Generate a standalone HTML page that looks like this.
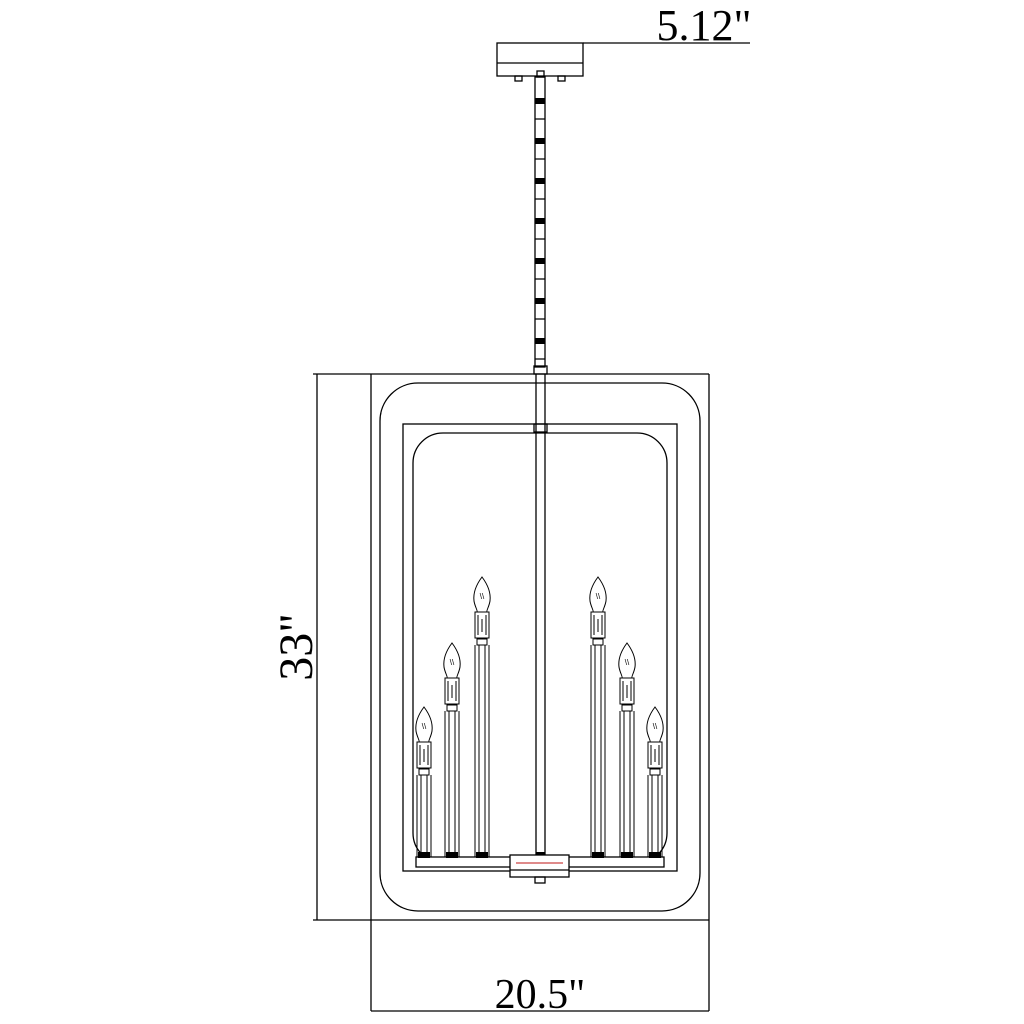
<!DOCTYPE html>
<html><head><style>html,body{margin:0;padding:0;background:#fff}svg{display:block}</style></head>
<body>
<svg width="1024" height="1024" viewBox="0 0 1024 1024" xmlns="http://www.w3.org/2000/svg">
<defs>
<g id="head" fill="none" stroke="#000" stroke-width="1">
  <path d="M0,0 C-6,8 -9,16 -8,24 C-7,30 -4,34 -5,35 L5,35 C4,34 7,30 8,24 C9,16 6,8 0,0 Z"/>
  <text x="0" y="22" font-size="8" text-anchor="middle" fill="#000" stroke="none" font-family="Liberation Sans, sans-serif">\\</text>
  <rect x="-7" y="35" width="14" height="26"/>
  <line x1="-4" y1="38" x2="-4" y2="58"/><line x1="4" y1="38" x2="4" y2="58"/>
  <line x1="0" y1="42" x2="0" y2="55"/>
  <rect x="-5" y="62" width="10" height="6"/>
</g>
</defs>
<g fill="none" stroke="#000" stroke-width="1.3">
  <line x1="583" y1="43" x2="750" y2="43"/>
  <rect x="497" y="43" width="86" height="33"/>
  <line x1="497" y1="63" x2="583" y2="63"/>
  <rect x="515" y="76" width="7" height="5"/><rect x="558" y="76" width="7" height="5"/>
  <rect x="537" y="71" width="7" height="6"/>
  <!-- chain -->
  <rect x="535" y="77" width="10" height="290"/>
  <path d="M535,99 H545 M535,119 H545 M535,139 H545 M535,159 H545 M535,179 H545 M535,199 H545 M535,219 H545 M535,239 H545 M535,259 H545 M535,279 H545 M535,299 H545 M535,319 H545 M535,339 H545 M535,359 H545"/>
  <rect x="534" y="366" width="13" height="8"/>
  <line x1="536" y1="374" x2="536" y2="855"/><line x1="545" y1="374" x2="545" y2="855"/>
  <rect x="534" y="424" width="13" height="8"/>
  <line x1="313" y1="374" x2="709" y2="374"/>
  <line x1="313" y1="920" x2="709" y2="920"/>
  <line x1="317" y1="374" x2="317" y2="920"/>
  <line x1="371" y1="374" x2="371" y2="1011"/>
  <line x1="709" y1="374" x2="709" y2="1011"/>
  <line x1="371" y1="1011" x2="709" y2="1011"/>
  <rect x="380" y="383" width="320" height="528" rx="38"/>
  <rect x="403" y="424" width="274" height="447"/>
  <rect x="413" y="433" width="254" height="430" rx="30"/>
  <rect x="416" y="857" width="248" height="10" fill="#fff"/>
  <rect x="510" y="855" width="59" height="22" fill="#fff"/>
  <line x1="510" y1="870" x2="569" y2="870"/>
  <line x1="516" y1="863" x2="563" y2="863" stroke="#c44"/>
  <rect x="535" y="877" width="10" height="6"/>
</g>
<g fill="#000">
  <rect x="535" y="98" width="10" height="6"/><rect x="535" y="138" width="10" height="6"/><rect x="535" y="178" width="10" height="6"/>
  <rect x="535" y="218" width="10" height="6"/><rect x="535" y="258" width="10" height="6"/><rect x="535" y="298" width="10" height="6"/>
  <rect x="535" y="338" width="10" height="6"/>
  <rect x="536" y="852" width="9" height="3"/>
</g>
<use href="#head" transform="translate(482,577)"/>
<use href="#head" transform="translate(452,643)"/>
<use href="#head" transform="translate(424,707)"/>
<use href="#head" transform="translate(598,577)"/>
<use href="#head" transform="translate(627,643)"/>
<use href="#head" transform="translate(655,707)"/>
<g fill="none" stroke="#000" stroke-width="1">
  <path d="M475,645V857M489,645V857M479,645V857M485,645V857"/>
  <path d="M445,711V857M459,711V857M449,711V857M455,711V857"/>
  <path d="M417,775V857M431,775V857M421,775V857M427,775V857"/>
  <path d="M591,645V857M605,645V857M595,645V857M601,645V857"/>
  <path d="M620,711V857M634,711V857M624,711V857M630,711V857"/>
  <path d="M648,775V857M662,775V857M652,775V857M658,775V857"/>
</g>
<g fill="#000">
  <rect x="418" y="852" width="12" height="6"/><rect x="446" y="852" width="12" height="6"/><rect x="476" y="852" width="12" height="6"/>
  <rect x="592" y="852" width="12" height="6"/><rect x="621" y="852" width="12" height="6"/><rect x="649" y="852" width="12" height="6"/>
</g>
<g font-family="Liberation Serif, serif" fill="#000">
  <text x="704" y="40" font-size="44" text-anchor="middle">5.12"</text>
  <text x="540" y="1008" font-size="42" text-anchor="middle">20.5"</text>
  <text x="0" y="0" font-size="48" text-anchor="middle" transform="translate(312,647) rotate(-90)">33"</text>
</g>
</svg>
</body></html>
